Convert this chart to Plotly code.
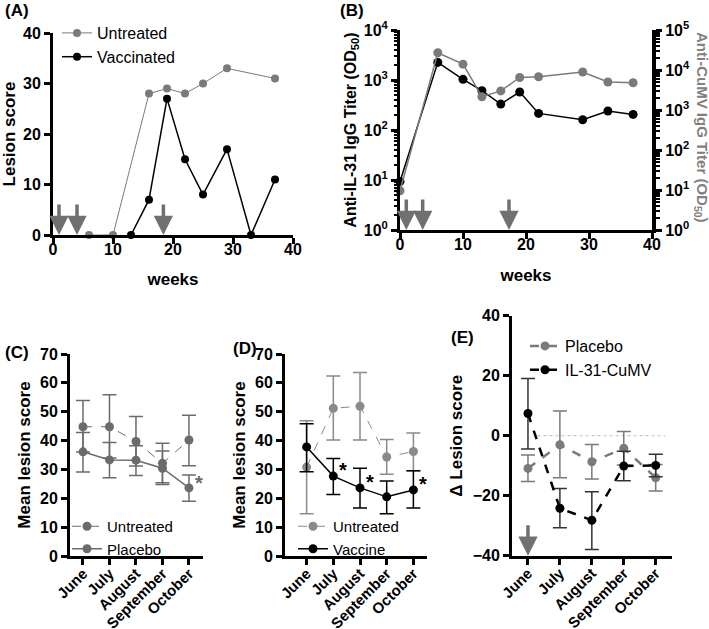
import plotly.graph_objects as go

# ---------------- data ----------------
# Panel A
a_weeks_untreated = [6, 10, 16, 19, 22, 25, 29, 37]
a_score_untreated = [0, 0, 28, 29, 28, 30, 33, 31]
a_weeks_vacc = [13, 16, 19, 22, 25, 29, 33, 37]
a_score_vacc = [0, 7, 27, 15, 8, 17, 0, 11]
a_arrow_weeks = [1, 4, 18.4]

# Panel B
b_weeks = [0, 6, 10, 13, 16, 19, 22, 29, 33, 37]
b_il31 = [9.3, 2250, 1030, 610, 330, 575, 215, 160, 240, 205]
b_cumv = [9.6, 27000, 14000, 2150, 3000, 6500, 6800, 8900, 5000, 4800]
b_arrow_weeks = [1, 3.6, 17.3]

months = ["June", "July", "August", "September", "October"]

# Panel C
c_untreated = [44.8, 44.8, 39.7, 32.1, 40.2]
c_untreated_hi = [53.9, 55.9, 48.3, 39.1, 48.8]
c_untreated_lo = [36.0, 34.0, 31.2, 24.8, 31.3]
c_placebo = [36.1, 33.3, 33.2, 30.4, 23.6]
c_placebo_hi = [42.8, 39.3, 38.2, 36.4, 28.1]
c_placebo_lo = [29.1, 27.1, 27.9, 25.4, 19.0]
c_star_months = ["October"]
c_star_vals = [23.6]

# Panel D
d_untreated = [30.8, 51.2, 51.9, 34.3, 36.2]
d_untreated_hi = [46.9, 62.4, 63.6, 40.4, 42.6]
d_untreated_lo = [14.6, 40.2, 40.2, 28.3, 29.5]
d_vaccine = [37.8, 27.7, 23.6, 20.5, 22.9]
d_vaccine_hi = [45.8, 33.8, 30.4, 26.0, 29.5]
d_vaccine_lo = [29.2, 21.3, 16.6, 14.6, 16.6]
d_star_months = ["July", "August", "October"]
d_star_vals = [27.7, 23.6, 22.9]

# Panel E
e_placebo = [-10.9, -3.0, -8.7, -4.2, -14.0]
e_placebo_hi = [-6.4, 8.2, -2.9, 1.4, -9.6]
e_placebo_lo = [-15.3, -14.0, -14.4, -9.8, -18.4]
e_il31 = [7.4, -24.2, -28.2, -10.1, -9.9]
e_il31_hi = [19.1, -17.6, -18.7, -5.2, -6.2]
e_il31_lo = [-4.4, -30.7, -37.9, -15.0, -13.7]
e_arrow_months = ["June"]

# ---------------- styling helpers ----------------
FONT = "Liberation Sans, Arial, sans-serif"
GRAY = "#7a7a7a"
GRAY_C = "#6b6b6b"
GRAY_D = "#8a8a8a"
W, H = 709, 629


def px_x(p):
    return p / W


def px_y(p):
    return 1 - p / H


def errs(mean, hi, lo):
    return dict(type="data", symmetric=False,
                array=[h - m for h, m in zip(hi, mean)],
                arrayminus=[m - l for m, l in zip(mean, lo)])


axis_common = dict(showline=True, linewidth=3, linecolor="black", ticks="outside",
                   ticklen=6, tickwidth=3, tickcolor="black", showgrid=False,
                   zeroline=False, mirror=False, automargin=False,
                   tickfont=dict(family=FONT, size=16, color="black", weight="bold"))
cat_font = dict(family=FONT, size=15, color="black", weight="bold")
title_font = dict(family=FONT, size=17, color="black", weight="bold")

fig = go.Figure()

# ---------------- Panel A ----------------
fig.add_trace(go.Scatter(x=a_weeks_untreated, y=a_score_untreated, name="Untreated",
                         mode="lines+markers", line=dict(color=GRAY, width=1),
                         marker=dict(color=GRAY, size=8), cliponaxis=False,
                         xaxis="x", yaxis="y", legend="legend"))
fig.add_trace(go.Scatter(x=a_weeks_vacc, y=a_score_vacc, name="Vaccinated",
                         mode="lines+markers", line=dict(color="black", width=1.5),
                         marker=dict(color="black", size=8), cliponaxis=False,
                         xaxis="x", yaxis="y", legend="legend"))

# ---------------- Panel B ----------------
fig.add_trace(go.Scatter(x=b_weeks, y=b_cumv, name="Anti-CuMV", mode="lines+markers",
                         line=dict(color=GRAY, width=1.5), marker=dict(color=GRAY, size=9),
                         cliponaxis=False, xaxis="x2", yaxis="y3", showlegend=False))
fig.add_trace(go.Scatter(x=b_weeks, y=b_il31, name="Anti-IL-31", mode="lines+markers",
                         line=dict(color="black", width=1.5), marker=dict(color="black", size=9),
                         cliponaxis=False, xaxis="x2", yaxis="y2", showlegend=False))

# ---------------- Panel C ----------------
fig.add_trace(go.Scatter(x=months, y=c_untreated, name="Untreated", mode="lines+markers",
                         line=dict(color=GRAY_C, width=1, dash="dash"),
                         marker=dict(color=GRAY_C, size=9),
                         error_y=dict(**errs(c_untreated, c_untreated_hi, c_untreated_lo),
                                      color=GRAY_C, thickness=1.5, width=7),
                         cliponaxis=False, xaxis="x3", yaxis="y4", legend="legend2"))
fig.add_trace(go.Scatter(x=months, y=c_placebo, name="Placebo", mode="lines+markers",
                         line=dict(color=GRAY_C, width=1.5),
                         marker=dict(color=GRAY_C, size=9),
                         error_y=dict(**errs(c_placebo, c_placebo_hi, c_placebo_lo),
                                      color=GRAY_C, thickness=1.5, width=7),
                         cliponaxis=False, xaxis="x3", yaxis="y4", legend="legend2"))

# ---------------- Panel D ----------------
fig.add_trace(go.Scatter(x=months, y=d_untreated, name="Untreated", mode="lines+markers",
                         line=dict(color=GRAY_D, width=1, dash="dash"),
                         marker=dict(color=GRAY_D, size=9),
                         error_y=dict(**errs(d_untreated, d_untreated_hi, d_untreated_lo),
                                      color=GRAY_D, thickness=1.5, width=7),
                         cliponaxis=False, xaxis="x4", yaxis="y5", legend="legend3"))
fig.add_trace(go.Scatter(x=months, y=d_vaccine, name="Vaccine", mode="lines+markers",
                         line=dict(color="black", width=1.5),
                         marker=dict(color="black", size=9),
                         error_y=dict(**errs(d_vaccine, d_vaccine_hi, d_vaccine_lo),
                                      color="black", thickness=1.5, width=7),
                         cliponaxis=False, xaxis="x4", yaxis="y5", legend="legend3"))

# ---------------- Panel E ----------------
fig.add_shape(type="line", xref="x5", yref="y6", x0=0.3, x1=4.3, y0=0, y1=0,
              line=dict(color="#bbbbbb", width=1, dash="dot"), layer="below")
fig.add_trace(go.Scatter(x=months, y=e_placebo, name="Placebo", mode="lines+markers",
                         line=dict(color=GRAY, width=2.5, dash="dash"),
                         marker=dict(color=GRAY, size=9),
                         error_y=dict(**errs(e_placebo, e_placebo_hi, e_placebo_lo),
                                      color=GRAY, thickness=1.5, width=7),
                         cliponaxis=False, xaxis="x5", yaxis="y6", legend="legend4"))
fig.add_trace(go.Scatter(x=months, y=e_il31, name="IL-31-CuMV", mode="lines+markers",
                         line=dict(color="black", width=2.5, dash="dash"),
                         marker=dict(color="black", size=9),
                         error_y=dict(**errs(e_il31, e_il31_hi, e_il31_lo),
                                      color="#333333", thickness=1.5, width=7),
                         cliponaxis=False, xaxis="x5", yaxis="y6", legend="legend4"))

# ---------------- axes ----------------
pow_text = lambda n: "10<sup>%d</sup>" % n

fig.update_layout(
    xaxis=dict(axis_common, domain=[px_x(53), px_x(293)], range=[0, 40], anchor="y",
               tickvals=[0, 10, 20, 30, 40], ticklabelstandoff=-8,
               title=dict(text="weeks", font=title_font, standoff=16)),
    yaxis=dict(axis_common, domain=[px_y(235), px_y(33)], range=[0, 40], anchor="x",
               tickvals=[0, 10, 20, 30, 40],
               title=dict(text="Lesion score", font=title_font, standoff=6)),
    xaxis2=dict(axis_common, domain=[px_x(400), px_x(652)], range=[0, 40], anchor="y2",
                tickvals=[0, 10, 20, 30, 40], ticklabelstandoff=-8,
                title=dict(text="weeks", font=title_font, standoff=17)),
    yaxis2=dict(axis_common, domain=[px_y(230), px_y(30)], type="log", range=[0, 4],
                anchor="x2", tickvals=[10 ** k for k in range(5)],
                ticktext=[pow_text(k) for k in range(5)],
                minor=dict(ticks="outside", ticklen=3, tickwidth=1.5, tickcolor="black",
                           tickvals=[m * 10 ** k for k in range(4) for m in range(2, 10)]),
                title=dict(text="Anti-IL-31 IgG Titer (OD<sub>50</sub>)",
                           font=dict(title_font, size=16), standoff=4)),
    yaxis3=dict(axis_common, domain=[px_y(230), px_y(30)], type="log", range=[0, 5],
                anchor="x2", overlaying="y2", side="right", linewidth=4,
                tickvals=[10 ** k for k in range(6)],
                ticktext=[pow_text(k) for k in range(6)],
                minor=dict(ticks="outside", ticklen=4, tickwidth=1.5, tickcolor="black",
                           tickvals=[m * 10 ** k for k in range(5) for m in range(2, 10)])),
    xaxis3=dict(axis_common, domain=[px_x(70), px_x(203)], type="category",
                range=[-0.49, 4.53], anchor="y4", tickangle=-45, tickfont=cat_font,
                ticklabelstandoff=-6),
    yaxis4=dict(axis_common, domain=[px_y(556), px_y(354)], range=[0, 70], anchor="x3",
                tickvals=[0, 10, 20, 30, 40, 50, 60, 70],
                title=dict(text="Mean lesion score", font=title_font, standoff=6)),
    xaxis4=dict(axis_common, domain=[px_x(285), px_x(427)], type="category",
                range=[-0.81, 4.51], anchor="y5", tickangle=-45, tickfont=cat_font,
                ticklabelstandoff=-6),
    yaxis5=dict(axis_common, domain=[px_y(556), px_y(354)], range=[0, 70], anchor="x4",
                tickvals=[0, 10, 20, 30, 40, 50, 60, 70],
                title=dict(text="Mean lesion score", font=title_font, standoff=6)),
    xaxis5=dict(axis_common, domain=[px_x(512), px_x(672)], type="category",
                range=[-0.5, 4.51], anchor="y6", tickangle=-45, tickfont=cat_font,
                ticklabelstandoff=-6),
    yaxis6=dict(axis_common, domain=[px_y(555.7), px_y(315.7)], range=[-40, 40],
                anchor="x5", tickvals=[-40, -20, 0, 20, 40],
                ticktext=["−40", "−20", "0", "20", "40"],
                title=dict(text="Δ Lesion score", font=title_font, standoff=6)),
)

# ---------------- legends ----------------
leg_common = dict(bgcolor="rgba(0,0,0,0)", borderwidth=0, xanchor="left", yanchor="top",
                  font=dict(family=FONT, size=16, color="black"), traceorder="normal",
                  itemclick=False)
fig.update_layout(
    legend=dict(leg_common, x=px_x(57), y=px_y(16)),
    legend2=dict(leg_common, x=px_x(67), y=px_y(510), font=dict(family=FONT, size=15, color="black")),
    legend3=dict(leg_common, x=px_x(293), y=px_y(510), font=dict(family=FONT, size=15, color="black")),
    legend4=dict(leg_common, x=px_x(525), y=px_y(329)),
)

# ---------------- annotations ----------------
ann = []
lab_font = dict(family=FONT, size=17, color="black", weight="bold")
for txt, x, y in [("(A)", 3, 10), ("(B)", 338, 10), ("(C)", 3, 352), ("(D)", 231, 349), ("(E)", 449, 337)]:
    ann.append(dict(text=txt, x=px_x(x), y=px_y(y), xref="paper", yref="paper",
                    xanchor="left", yanchor="middle", showarrow=False, font=lab_font))

# right axis title of panel B
ann.append(dict(text="Anti-CuMV IgG Titer (OD<sub>50</sub>)", x=px_x(701), y=px_y(127),
                xref="paper", yref="paper", xanchor="center", yanchor="middle",
                textangle=90, showarrow=False,
                font=dict(family=FONT, size=15, color="#808080", weight="bold")))

arrow_style = dict(text="", showarrow=True, arrowhead=2, arrowsize=1.1, arrowwidth=3.5,
                   arrowcolor="#707070", ax=0, ay=-32, standoff=0)
for wk in a_arrow_weeks:
    ann.append(dict(arrow_style, x=wk, y=0, xref="x", yref="y"))
for wk in b_arrow_weeks:
    ann.append(dict(arrow_style, x=wk, y=0, xref="x2", yref="y2"))
for m in e_arrow_months:
    ann.append(dict(arrow_style, x=m, y=-40, xref="x5", yref="y6"))

star_font = dict(family=FONT, size=20, weight="bold")
for m, v in zip(c_star_months, c_star_vals):
    ann.append(dict(text="*", x=m, y=v, xref="x3", yref="y4", showarrow=False,
                    xshift=10, yshift=5, font=dict(star_font, color=GRAY_C)))
for m, v in zip(d_star_months, d_star_vals):
    ann.append(dict(text="*", x=m, y=v, xref="x4", yref="y5", showarrow=False,
                    xshift=10, yshift=6, font=dict(star_font, color="black")))

fig.update_layout(annotations=ann, width=W, height=H,
                  margin=dict(l=0, r=0, t=0, b=0, autoexpand=False), paper_bgcolor="white",
                  plot_bgcolor="white", font=dict(family=FONT, color="black"))

fig.write_html("out.html", config={"displayModeBar": False},
               post_script="document.body.style.margin='0';document.body.style.overflow='hidden';")
